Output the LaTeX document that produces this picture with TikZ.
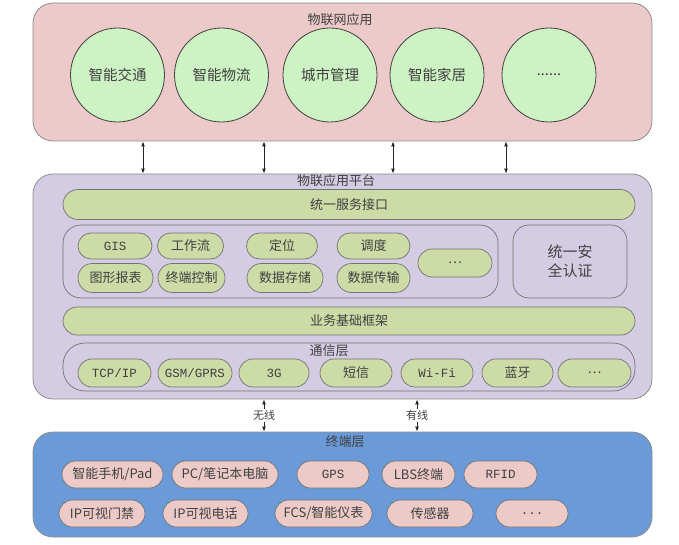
\documentclass[tikz,border=0pt]{standalone}
\usepackage{fontspec}
\setmainfont{Noto Sans CJK SC}
\setmonofont{Liberation Mono}
\usetikzlibrary{shapes.misc,arrows.meta}
\definecolor{appbg}{RGB}{236,202,202}
\definecolor{circg}{RGB}{205,242,195}
\definecolor{platbg}{RGB}{212,204,226}
\definecolor{oliveg}{RGB}{205,219,167}
\definecolor{termbg}{RGB}{106,155,216}
\definecolor{pillpink}{RGB}{236,202,200}
\definecolor{txt}{RGB}{64,64,64}
\begin{document}
\begin{tikzpicture}[x=1pt,y=-1pt,
  panel/.style={draw=black!45, line width=0.8pt, rounded corners=20pt, inner sep=0pt},
  circ/.style={circle, draw=black!75, line width=0.8pt, fill=circg, minimum size=94pt, inner sep=0pt, text=txt, font=\fontsize{14.5}{16}\selectfont},
  opill/.style={rounded rectangle, draw=black!55, line width=0.7pt, fill=oliveg, inner sep=0pt, text=txt, font=\fontsize{13}{15}\selectfont},
  ppill/.style={rounded rectangle, draw=black!55, line width=0.7pt, fill=pillpink, inner sep=0pt, text=txt, font=\fontsize{13}{15}\selectfont},
  ibox/.style={draw=black!55, line width=0.7pt, fill=platbg, rounded corners=18pt, inner sep=0pt},
  ttl/.style={text=txt, font=\fontsize{13}{15}\selectfont, inner sep=0pt},
  mono/.style={font=\ttfamily\fontsize{12.5}{15}\selectfont},
  darr/.style={{Latex[length=5pt,width=4pt]}-{Latex[length=5pt,width=4pt]}, line width=0.9pt, black!85},
  lbl/.style={fill=white, inner sep=1pt, text=txt, font=\fontsize{11}{13}\selectfont}
]
\useasboundingbox (0,0) rectangle (679,545);

% panels
\node[panel, fill=appbg, minimum width=619pt, minimum height=138pt] (app) at (342.5,72) {};
\node[panel, fill=platbg, minimum width=619pt, minimum height=225pt] (plat) at (342.5,286.5) {};
\node[panel, fill=termbg, minimum width=619pt, minimum height=105pt] (term) at (342.5,484.5) {};

% titles
\node[ttl] (t1) at (340,20) {物联网应用};
\node[ttl] (t2) at (336,181) {物联应用平台};
\node[ttl] (t3) at (345,442) {终端层};

% circles
\node[circ] (c1) at (117.5,75) {智能交通};
\node[circ] (c2) at (221.5,75) {智能物流};
\node[circ] (c3) at (330,75) {城市管理};
\node[circ] (c4) at (437,75) {智能家居};
\node[circ] (c5) at (549,75) {......};

% platform
\node[opill, minimum width=572pt, minimum height=30pt] (svc) at (349,204.5) {统一服务接口};
\node[ibox, minimum width=435pt, minimum height=73pt] (fbox) at (280.5,261.5) {};
\node[ibox, minimum width=114pt, minimum height=73pt, rounded corners=16pt, text=txt, font=\fontsize{15}{19}\selectfont, align=center] (sec) at (570,261.5) {统一安\\全认证};

\node[opill, mono, minimum width=74pt, minimum height=26pt] (f1) at (115,246) {GIS};
\node[opill, minimum width=66pt, minimum height=26pt] (f2) at (190.5,246) {工作流};
\node[opill, minimum width=71pt, minimum height=26pt] (f3) at (282,246) {定位};
\node[opill, minimum width=73pt, minimum height=26pt] (f4) at (373.5,246) {调度};
\node[opill, minimum width=75pt, minimum height=29pt] (f5) at (115.5,278) {图形报表};
\node[opill, minimum width=67pt, minimum height=29pt] (f6) at (191.5,278) {终端控制};
\node[opill, minimum width=76pt, minimum height=29pt] (f7) at (285,278) {数据存储};
\node[opill, minimum width=73pt, minimum height=29pt] (f8) at (373.5,278) {数据传输};
\node[opill, minimum width=74pt, minimum height=28pt] (f9) at (455,263) {…};

\node[opill, minimum width=572pt, minimum height=28pt] (base) at (349,321) {业务基础框架};

\node[ibox, minimum width=572pt, minimum height=48pt, rounded corners=22pt] (comm) at (349,367) {};
\node[ttl] (t4) at (329,350.5) {通信层};
\node[opill, mono, minimum width=73pt, minimum height=28pt] (p1) at (114.5,373) {TCP/IP};
\node[opill, mono, minimum width=74pt, minimum height=28pt] (p2) at (195,373) {GSM/GPRS};
\node[opill, mono, minimum width=70pt, minimum height=28pt] (p3) at (274,373) {3G};
\node[opill, minimum width=72pt, minimum height=28pt] (p4) at (356,373) {短信};
\node[opill, mono, minimum width=72pt, minimum height=28pt] (p5) at (437,373) {Wi-Fi};
\node[opill, minimum width=71pt, minimum height=28pt] (p6) at (517.5,373) {蓝牙};
\node[opill, minimum width=73pt, minimum height=28pt] (p7) at (594.5,373) {…};

% terminal
\node[ppill, minimum width=101pt, minimum height=27pt] (d1) at (112.5,474.5) {智能手机/Pad};
\node[ppill, minimum width=106pt, minimum height=27pt] (d2) at (225,474.5) {PC/笔记本电脑};
\node[ppill, mono, minimum width=72pt, minimum height=27pt] (d3) at (333,474.5) {GPS};
\node[ppill, minimum width=73pt, minimum height=27pt] (d4) at (418.5,474.5) {LBS终端};
\node[ppill, mono, minimum width=73pt, minimum height=27pt] (d5) at (500.5,474.5) {RFID};
\node[ppill, minimum width=86pt, minimum height=27pt] (e1) at (102,513.5) {IP可视门禁};
\node[ppill, minimum width=85pt, minimum height=27pt] (e2) at (205.5,513.5) {IP可视电话};
\node[ppill, minimum width=97pt, minimum height=27pt] (e3) at (323.5,513.5) {FCS/智能仪表};
\node[ppill, minimum width=86pt, minimum height=27pt] (e4) at (430,513.5) {传感器};
\node[ppill, mono, minimum width=72pt, minimum height=27pt] (e5) at (532,513.5) {...};

% connectors
\coordinate (x1) at (143,0);
\coordinate (x2) at (264,0);
\coordinate (x3) at (393,0);
\coordinate (x4) at (506,0);
\coordinate (x5) at (264,0);
\coordinate (x6) at (417,0);
\draw[darr] (app.south -| x1) -- (plat.north -| x1);
\draw[darr] (app.south -| x2) -- (plat.north -| x2);
\draw[darr] (app.south -| x3) -- (plat.north -| x3);
\draw[darr] (app.south -| x4) -- (plat.north -| x4);
\draw[darr] (plat.south -| x5) -- node[lbl] {无线} (term.north -| x5);
\draw[darr] (plat.south -| x6) -- node[lbl] {有线} (term.north -| x6);
\end{tikzpicture}
\end{document}
